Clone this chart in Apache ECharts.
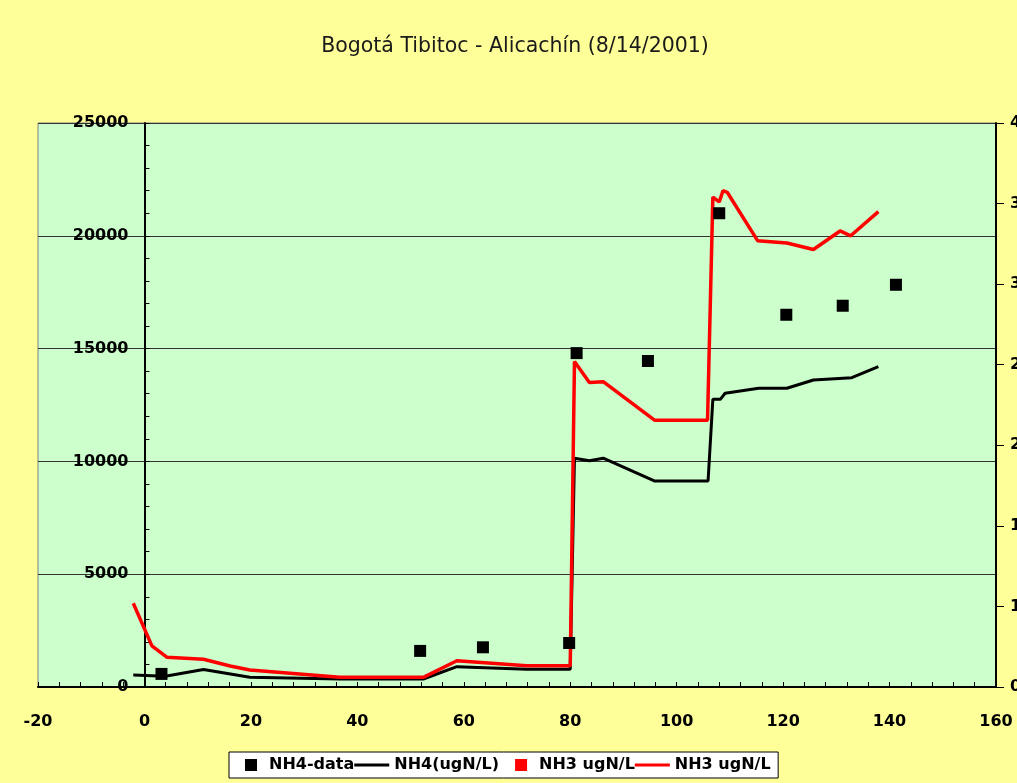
<!DOCTYPE html>
<html>
<head>
<meta charset="utf-8">
<script src="https://cdn.jsdelivr.net/npm/echarts@6/dist/echarts.min.js"></script>
<style>
html,body{margin:0;padding:0;background:#FFFF99;}
#chart{width:1017px;height:783px;}
</style>
</head>
<body>
<div id="chart"></div>
<script>
const titleText = 'Bogotá Tibitoc - Alicachín (8/14/2001)';
const seriesNames = ['NH4-data', 'NH4(ugN/L)', 'NH3 ugN/L', 'NH3 ugN/L '];

const xTicks = { min: -20, max: 160, interval: 20 };
const leftTicks = { min: 0, max: 25000, interval: 5000 };
const rightTicks = { min: 0, max: 35, interval: 5 };
const rightTickLabels = ['0', '1', '1', '2', '2', '3', '3', '4'];

// NH4 measured data (x, ugN/L)
const nh4Data = [
  [3.2, 580], [51.8, 1600], [63.6, 1760], [79.8, 1950], [81.2, 14800],
  [94.6, 14450], [108.0, 21000], [120.6, 16500], [131.2, 16900], [141.2, 17830]
];

// NH4 model line (left axis)
const nh4Line = [
  [-2.1, 530], [3.9, 480], [11.1, 780], [19.8, 430], [36.7, 355], [52.4, 355],
  [58.7, 900], [71.8, 790], [80.0, 790], [80.8, 10140], [83.6, 10030], [86.2, 10140],
  [95.9, 9130], [105.9, 9130], [106.8, 12750], [108.2, 12750], [109.1, 13020],
  [115.4, 13240], [120.7, 13240], [125.7, 13610], [132.9, 13710], [137.9, 14200]
];

// NH3 measured data (none visible)
const nh3Data = [];

// NH3 model line (right axis)
const nh3Line = [
  [-2.1, 5.2], [1.4, 2.55], [4.2, 1.85], [11.1, 1.72], [16.1, 1.3], [19.8, 1.05],
  [36.7, 0.6], [52.4, 0.6], [58.7, 1.63], [71.8, 1.32], [80.0, 1.32], [80.8, 20.2],
  [83.6, 18.9], [86.2, 18.95], [95.9, 16.55], [105.8, 16.55], [106.8, 30.4],
  [108.0, 30.1], [108.7, 30.8], [109.5, 30.7], [115.2, 27.7], [120.7, 27.55],
  [125.7, 27.15], [130.7, 28.3], [132.7, 28.0], [137.9, 29.5]
];

const FONT = 'DejaVu Sans';
const sqIcon = 'path://M0,0M35,12M16,0h12v12h-12z';
const lnIcon = 'path://M0,0M35,12M0,4.5h35v3h-35z';

const GRID_LEFT = 38, GRID_RIGHT = 21, CHART_W = 1017;
// left axis sits at x = 0 of the x axis
const plotW = CHART_W - GRID_LEFT - GRID_RIGHT;
const leftAxisOffset = -plotW * (0 - xTicks.min) / (xTicks.max - xTicks.min);

const chart = echarts.init(document.getElementById('chart'), null, { renderer: 'canvas' });
chart.setOption({
  backgroundColor: '#FFFF99',
  animation: false,
  title: {
    text: titleText,
    left: 515,
    textAlign: 'center',
    top: 36,
    padding: 0,
    textStyle: { fontFamily: FONT, fontSize: 20.5, fontWeight: 'normal', color: '#1a1a1a' }
  },
  legend: {
    left: 229,
    top: 752,
    orient: 'horizontal',
    selectedMode: false,
    itemWidth: 35,
    itemHeight: 12,
    itemGap: 0,
    padding: [5, 2, 5, 0],
    backgroundColor: '#FFFFFF',
    borderColor: '#000000',
    borderWidth: 1,
    borderRadius: 0,
    itemStyle: { borderWidth: 0, opacity: 1 },
    textStyle: { fontFamily: FONT, fontSize: 16, fontWeight: 'bold', color: '#000' },
    data: [
      { name: seriesNames[0], icon: sqIcon },
      { name: seriesNames[1], icon: lnIcon },
      { name: seriesNames[2], icon: sqIcon },
      { name: seriesNames[3], icon: lnIcon }
    ]
  },
  grid: {
    left: GRID_LEFT, right: GRID_RIGHT, top: 123, bottom: 96,
    containLabel: false,
    outerBoundsMode: 'none',
    show: true, backgroundColor: '#CCFFCC', borderColor: '#808080', borderWidth: 1
  },
  xAxis: {
    type: 'value',
    min: xTicks.min, max: xTicks.max, interval: xTicks.interval,
    axisLine: { show: true, onZero: true, lineStyle: { color: '#000', width: 2 } },
    axisTick: { show: true, inside: true, length: 5, lineStyle: { color: '#000', width: 1 } },
    minorTick: { show: true, splitNumber: 5, length: 5, lineStyle: { color: '#000', width: 1 } },
    splitLine: { show: false },
    axisLabel: {
      margin: 27, fontFamily: FONT, fontSize: 16, fontWeight: 'bold', color: '#000',
      formatter: function (v) { return String(v); }
    }
  },
  yAxis: [
    {
      type: 'value',
      position: 'left',
      offset: leftAxisOffset,
      min: leftTicks.min, max: leftTicks.max, interval: leftTicks.interval,
      axisLine: { show: true, onZero: false, lineStyle: { color: '#000', width: 2 } },
      axisTick: { show: true, inside: true, length: 5, lineStyle: { color: '#000', width: 1 } },
      minorTick: { show: true, splitNumber: 5, length: 5, lineStyle: { color: '#000', width: 1 } },
      splitLine: { show: true, lineStyle: { color: '#333', width: 1 } },
      axisLabel: {
        margin: 16, fontFamily: FONT, fontSize: 16, fontWeight: 'bold', color: '#000',
        formatter: function (v) { return String(v); }
      }
    },
    {
      type: 'value',
      position: 'right',
      min: rightTicks.min, max: rightTicks.max, interval: rightTicks.interval,
      axisLine: { show: true, onZero: false, lineStyle: { color: '#000', width: 2 } },
      axisTick: { show: true, inside: false, length: 8, lineStyle: { color: '#000', width: 1 } },
      splitLine: { show: false },
      axisLabel: {
        margin: 14, fontFamily: FONT, fontSize: 16, fontWeight: 'bold', color: '#000',
        formatter: function (v, i) { return rightTickLabels[i]; }
      }
    }
  ],
  series: [
    {
      name: seriesNames[1], type: 'line', yAxisIndex: 0, data: nh4Line,
      symbol: 'none', lineStyle: { color: '#000', width: 3 }, itemStyle: { color: '#000' }, z: 2
    },
    {
      name: seriesNames[3], type: 'line', yAxisIndex: 1, data: nh3Line,
      symbol: 'none', lineStyle: { color: '#FF0000', width: 3.5 }, itemStyle: { color: '#FF0000' }, z: 3
    },
    {
      name: seriesNames[0], type: 'scatter', yAxisIndex: 0, data: nh4Data,
      symbol: 'rect', symbolSize: 12, itemStyle: { color: '#000', opacity: 1 }, z: 4
    },
    {
      name: seriesNames[2], type: 'scatter', yAxisIndex: 1, data: nh3Data,
      symbol: 'rect', symbolSize: 12, itemStyle: { color: '#FF0000', opacity: 1 }, z: 4
    }
  ]
});
</script>
</body>
</html>
